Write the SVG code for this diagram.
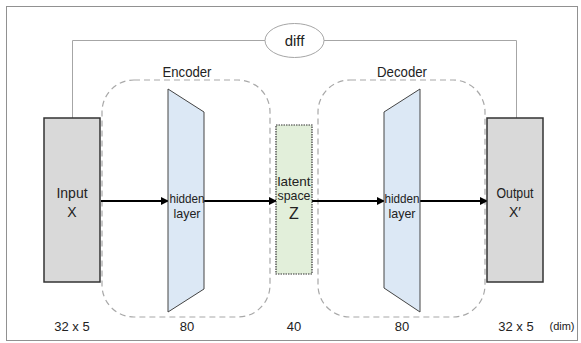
<svg xmlns="http://www.w3.org/2000/svg" width="581" height="343" viewBox="0 0 581 343">
<defs>
<style>
text{font-family:"Liberation Sans","DejaVu Sans",sans-serif;fill:#222;text-anchor:middle}
.lbl{font-size:14px}
.sm{font-size:13px}
.dim{font-size:13px}
.box{fill:#d9d9d9;stroke:#333;stroke-width:1.5}
.trap{fill:#dce8f5;stroke:#444;stroke-width:1}
.region{fill:none;stroke:#a8a8a8;stroke-width:1.2;stroke-dasharray:6 4}
.diffline{fill:none;stroke:#a6a6a6;stroke-width:1}
.arrow{stroke:#000;stroke-width:2;fill:none;marker-end:url(#ah)}
</style>
<marker id="ah" viewBox="0 0 8 8" refX="7" refY="4" markerWidth="4" markerHeight="4" orient="auto" markerUnits="strokeWidth">
<path d="M0,0 L8,4 L0,8 z" fill="#000"/>
</marker>
</defs>
<rect x="0" y="0" width="581" height="343" fill="#fff"/>
<rect x="6.5" y="6.5" width="571" height="334" fill="none" stroke="#222" stroke-width="1" stroke-dasharray="1 1"/>

<g id="encoder-region">
<rect class="region" x="102" y="80" width="168" height="237" rx="32" ry="32"/>
<text class="lbl" x="187" y="77" textLength="49" lengthAdjust="spacingAndGlyphs">Encoder</text>
</g>
<g id="decoder-region">
<rect class="region" x="318" y="80" width="167" height="237" rx="32" ry="32"/>
<text class="lbl" x="402" y="77" textLength="50" lengthAdjust="spacingAndGlyphs">Decoder</text>
</g>

<g id="connectors">
<polyline class="diffline" points="72.5,118 72.5,40.5 265,40.5"/>
<polyline class="diffline" points="324,40.5 516.5,40.5 516.5,118"/>
<line class="arrow" x1="101" y1="201" x2="168" y2="201"/>
<line class="arrow" x1="204" y1="201" x2="276" y2="201"/>
<line class="arrow" x1="312" y1="201" x2="384" y2="201"/>
<line class="arrow" x1="420" y1="201" x2="487" y2="201"/>
</g>

<g id="diff">
<ellipse cx="294.5" cy="40.5" rx="29.5" ry="17" fill="#fff" stroke="#a6a6a6" stroke-width="1"/>
<text x="294.5" y="46" font-size="15">diff</text>
</g>

<g id="input">
<rect class="box" x="44" y="118" width="56" height="164"/>
<text class="lbl" x="72" y="198">Input</text>
<text class="lbl" x="72" y="217">X</text>
</g>

<g id="encoder-hidden">
<polygon class="trap" points="168,89 204,112 204,289 168,312"/>
<text class="sm" x="187" y="203" textLength="35" lengthAdjust="spacingAndGlyphs">hidden</text>
<text class="sm" x="187" y="218" textLength="27" lengthAdjust="spacingAndGlyphs">layer</text>
</g>

<g id="latent">
<rect x="276" y="125" width="36" height="149" fill="#e2efda" stroke="#333" stroke-width="1.2" stroke-dasharray="1.5 1"/>
<text class="sm" x="294" y="186" textLength="33" lengthAdjust="spacingAndGlyphs">latent</text>
<text class="sm" x="294" y="200" textLength="33" lengthAdjust="spacingAndGlyphs">space</text>
<text x="294" y="219" font-size="16">Z</text>
</g>

<g id="decoder-hidden">
<polygon class="trap" points="384,112 420,89 420,312 384,288"/>
<text class="sm" x="402" y="203" textLength="35" lengthAdjust="spacingAndGlyphs">hidden</text>
<text class="sm" x="402" y="218" textLength="27" lengthAdjust="spacingAndGlyphs">layer</text>
</g>

<g id="output">
<rect class="box" x="487" y="118" width="56" height="164"/>
<text class="lbl" x="515" y="198" textLength="37" lengthAdjust="spacingAndGlyphs">Output</text>
<text class="lbl" x="515" y="217">X′</text>
</g>

<g id="dims">
<text class="dim" x="72" y="331">32 x 5</text>
<text class="dim" x="187" y="331">80</text>
<text class="dim" x="294" y="331">40</text>
<text class="dim" x="402" y="331">80</text>
<text class="dim" x="516" y="331">32 x 5</text>
<text x="562" y="330" font-size="11">(dim)</text>
</g>
</svg>
